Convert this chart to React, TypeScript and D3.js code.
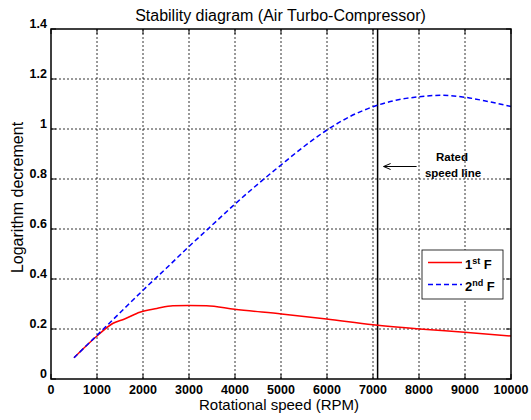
import React from "react";
import * as d3 from "d3";

const speedRed = [500, 1000, 1350, 1600, 1930, 2300, 2650, 3000, 3380, 3990, 5010, 5990, 7000, 8015, 8990, 10000];
const firstF = [0.085, 0.172, 0.223, 0.24, 0.267, 0.282, 0.293, 0.294, 0.293, 0.279, 0.26, 0.24, 0.217, 0.2, 0.187, 0.172];

const speedBlue = [500, 1000, 1500, 2000, 2500, 3000, 3500, 4000, 4500, 5000, 5500, 6000, 6500, 7000, 7500, 8000, 8500, 9000, 9500, 10000];
const secondF = [0.085, 0.175, 0.265, 0.355, 0.442, 0.53, 0.615, 0.7, 0.78, 0.856, 0.93, 0.996, 1.05, 1.089, 1.115, 1.129, 1.135, 1.127, 1.11, 1.09];

const xTicks = [0, 1000, 2000, 3000, 4000, 5000, 6000, 7000, 8000, 9000, 10000];
const yTicks = [0, 0.2, 0.4, 0.6, 0.8, 1, 1.2, 1.4];
const ratedSpeed = [7100];

const W = 531;
const H = 420;
const M = { left: 51, right: 20, top: 29, bottom: 41 };
const FONT = "'Liberation Sans', Arial, Helvetica, sans-serif";

export default function App() {
  const x = d3.scaleLinear().domain([0, 10000]).range([M.left, W - M.right]);
  const y = d3.scaleLinear().domain([0, 1.4]).range([H - M.bottom, M.top]);
  const line = d3
    .line<[number, number]>()
    .x((d) => x(d[0]))
    .y((d) => y(d[1]))
    .curve(d3.curveMonotoneX);
  const redPath = line(speedRed.map((s, i) => [s, firstF[i]]) as [number, number][]) || "";
  const bluePath = line(speedBlue.map((s, i) => [s, secondF[i]]) as [number, number][]) || "";
  const x0 = x(0), x1 = x(10000), y0 = y(0), y1 = y(1.4);
  const tl = 5;
  const rx = x(ratedSpeed[0]);

  return (
    <svg width={W} height={H} style={{ display: "block", position: "absolute", left: 0, top: 0, background: "#fff" }} fontFamily={FONT}>
      <rect x={0} y={0} width={W} height={H} fill="#fff" />
      {/* grid */}
      {xTicks.slice(1, -1).map((t) => (
        <line key={"gx" + t} x1={x(t)} x2={x(t)} y1={y0} y2={y1} stroke="#000" strokeWidth={0.8} strokeDasharray="2,2" />
      ))}
      {yTicks.slice(1, -1).map((t) => (
        <line key={"gy" + t} x1={x0} x2={x1} y1={y(t)} y2={y(t)} stroke="#000" strokeWidth={0.8} strokeDasharray="2,2" />
      ))}
      {/* ticks inward */}
      {xTicks.map((t) => (
        <g key={"tx" + t}>
          <line x1={x(t)} x2={x(t)} y1={y0} y2={y0 - tl} stroke="#000" />
          <line x1={x(t)} x2={x(t)} y1={y1} y2={y1 + tl} stroke="#000" />
          <text x={x(t)} y={y0 + 15} textAnchor="middle" fontSize={12.5} fontWeight="bold">{t}</text>
        </g>
      ))}
      {yTicks.map((t) => (
        <g key={"ty" + t}>
          <line x1={x0} x2={x0 + tl} y1={y(t)} y2={y(t)} stroke="#000" />
          <line x1={x1} x2={x1 - tl} y1={y(t)} y2={y(t)} stroke="#000" />
          <text x={x0 - 4} y={y(t) - 1} textAnchor="end" fontSize={12.5} fontWeight="bold">{String(t)}</text>
        </g>
      ))}
      {/* rated speed line */}
      <line x1={rx} x2={rx} y1={y0} y2={y1} stroke="#000" strokeWidth={1.5} />
      {/* curves */}
      <path d={redPath} fill="none" stroke="#ff0000" strokeWidth={1.5} />
      <path d={bluePath} fill="none" stroke="#0000ff" strokeWidth={1.5} strokeDasharray="5,3" />
      {/* box */}
      <rect x={x0} y={y1} width={x1 - x0} height={y0 - y1} fill="none" stroke="#000" strokeWidth={1.5} />
      {/* annotation */}
      <line x1={rx + 6} x2={rx + 39} y1={166.5} y2={166.5} stroke="#000" strokeWidth={1} />
      <path d={`M${rx + 13},163.5 L${rx + 6},166.5 L${rx + 13},169.5`} fill="none" stroke="#000" strokeWidth={1} />
      <text x={452} y={161} textAnchor="middle" fontSize={11.5} fontWeight="bold">Rated</text>
      <text x={453} y={177} textAnchor="middle" fontSize={11.5} fontWeight="bold">speed line</text>
      {/* legend */}
      <rect x={422} y={250} width={81} height={49} fill="#fff" stroke="#000" strokeWidth={0.8} />
      <line x1={428} x2={462} y1={262.5} y2={262.5} stroke="#ff0000" strokeWidth={1.5} />
      <line x1={428} x2={462} y1={284.5} y2={284.5} stroke="#0000ff" strokeWidth={1.5} strokeDasharray="5,3" />
      <text x={465} y={269} fontSize={13} fontWeight="bold">
        1<tspan fontSize={9} dy={-5}>st</tspan><tspan dy={5}> F</tspan>
      </text>
      <text x={465} y={291} fontSize={13} fontWeight="bold">
        2<tspan fontSize={9} dy={-5}>nd</tspan><tspan dy={5}> F</tspan>
      </text>
      {/* titles */}
      <text x={280.5} y={20.5} textAnchor="middle" fontSize={16}>Stability diagram (Air Turbo-Compressor)</text>
      <text x={279} y={410} textAnchor="middle" fontSize={15}>Rotational speed (RPM)</text>
      <text transform={`translate(23,197.5) rotate(-90)`} textAnchor="middle" fontSize={16}>Logarithm decrement</text>
    </svg>
  );
}
